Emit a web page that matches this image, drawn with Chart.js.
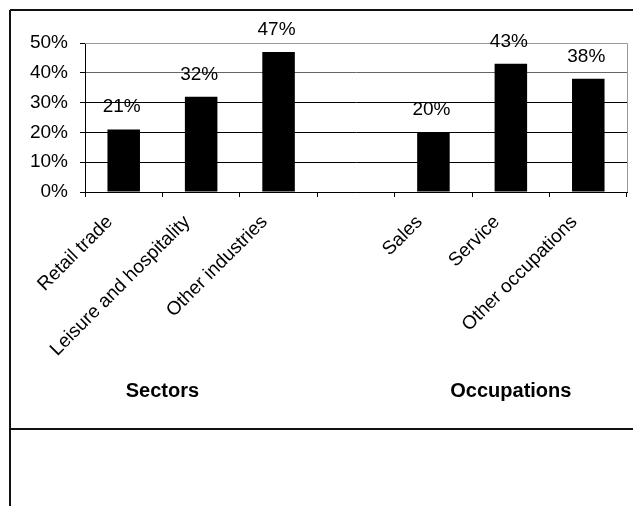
<!DOCTYPE html>
<html>
<head>
<meta charset="utf-8">
<script src="https://cdn.jsdelivr.net/npm/chart.js@4/dist/chart.umd.min.js"></script>
<style>
  html, body { margin: 0; padding: 0; background: #fff; }
  #wrap { width: 633px; height: 506px; position: relative; }
</style>
</head>
<body>
<div id="wrap"><canvas id="chart"></canvas></div>
<script>
// Categories (empty slot separates the two groups)
const categories = ['Retail trade', 'Leisure and hospitality', 'Other industries', '', 'Sales', 'Service', 'Other occupations'];
const shares = [21, 32, 47, null, 20, 43, 38];
const yTicks = [0, 10, 20, 30, 40, 50];
const groupTitles = ['Sectors', 'Occupations'];
const groupCenters = [0.5, 5];

const FONT = '"Liberation Sans", Arial, sans-serif';

// Outer frame lines around the figure
const framePlugin = {
  id: 'frame',
  beforeDraw(chart) {
    const ctx = chart.ctx;
    ctx.save();
    ctx.fillStyle = '#fff';
    ctx.fillRect(0, 0, chart.width, chart.height);
    ctx.strokeStyle = '#111';
    ctx.lineWidth = 2;
    ctx.beginPath();
    ctx.moveTo(10, 10); ctx.lineTo(chart.width, 10);
    ctx.moveTo(10, 10); ctx.lineTo(10, chart.height);
    ctx.moveTo(10, 429); ctx.lineTo(chart.width, 429);
    ctx.stroke();
    ctx.restore();
  },
  afterDraw(chart) {
    const ctx = chart.ctx;
    const a = chart.chartArea;
    const x = chart.scales.x;
    ctx.save();
    // grey plot border at top and right
    ctx.strokeStyle = '#999';
    ctx.lineWidth = 1;
    ctx.beginPath();
    ctx.moveTo(a.left, Math.round(a.top) + 0.5);
    ctx.lineTo(Math.round(a.right) + 0.5, Math.round(a.top) + 0.5);
    ctx.lineTo(Math.round(a.right) + 0.5, a.bottom);
    ctx.stroke();

    // value labels above the bars
    ctx.fillStyle = '#000';
    ctx.font = '19px ' + FONT;
    ctx.textAlign = 'center';
    ctx.textBaseline = 'alphabetic';
    chart.getDatasetMeta(0).data.forEach((bar, i) => {
      if (shares[i] == null) return;
      ctx.fillText(shares[i] + '%', bar.x - 2, bar.y - 17);
    });

    // group titles
    ctx.font = 'bold 20px ' + FONT;
    ctx.textBaseline = 'middle';
    groupTitles.forEach((t, i) => {
      ctx.fillText(t, x.getPixelForValue(groupCenters[i]), 391);
    });
    ctx.restore();
  }
};

new Chart(document.getElementById('chart'), {
  type: 'bar',
  data: {
    labels: categories,
    datasets: [{
      data: shares,
      backgroundColor: '#000',
      borderWidth: 0,
      barPercentage: 0.42,
      categoryPercentage: 1
    }]
  },
  options: {
    responsive: true,
    maintainAspectRatio: false,
    animation: false,
    layout: { padding: { left: 0, top: 43, right: 6, bottom: 0 } },
    plugins: { legend: { display: false }, tooltip: { enabled: false } },
    scales: {
      x: {
        offset: true,
        afterFit(scale) { scale.height = 314; },
        grid: {
          offset: true,
          drawOnChartArea: false,
          drawTicks: true,
          tickLength: 5,
          color: '#000'
        },
        border: { color: '#000', width: 1 },
        ticks: {
          minRotation: 45,
          maxRotation: 45,
          autoSkip: false,
          padding: 14,
          labelOffset: -14,
          color: '#000',
          font: { family: FONT, size: 19 }
        }
      },
      y: {
        min: 0,
        max: 50,
        afterFit(scale) { scale.width = 85; },
        afterBuildTicks(scale) { scale.ticks = yTicks.map(v => ({ value: v })); },
        grid: {
          color: (c) => {
            if (!c.tick) return '#000';
            if (c.tick.value === 50) return '#999';
            if (c.tick.value === 40) return '#666';
            return '#000';
          },
          tickColor: '#000',
          tickLength: 5
        },
        border: { color: '#000', width: 1 },
        ticks: {
          padding: 12,
          color: '#000',
          font: { family: FONT, size: 19 },
          callback: (v) => v + '%'
        }
      }
    }
  },
  plugins: [framePlugin]
});
</script>
</body>
</html>
